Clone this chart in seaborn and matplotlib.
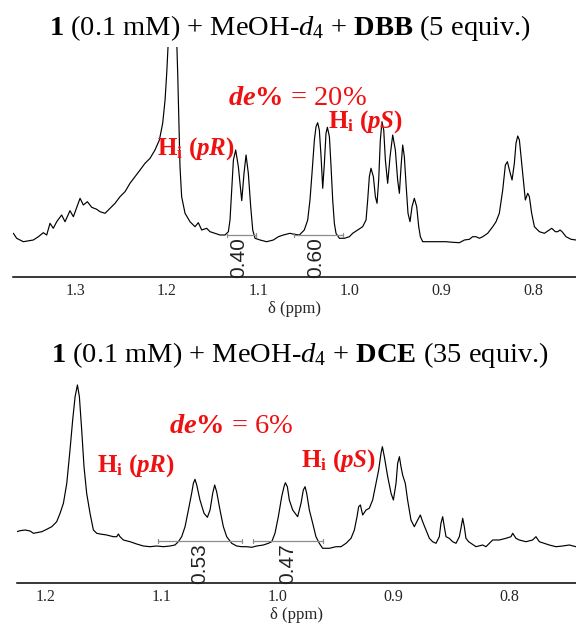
import numpy as np
import pandas as pd
import matplotlib
matplotlib.use("Agg")
import matplotlib.pyplot as plt
import seaborn as sns

# ---------------- data ----------------
# Top spectrum: 1 (0.1 mM) + MeOH-d4 + DBB (5 equiv.)
top_ppm = [1.3673, 1.3637, 1.3564, 1.3455, 1.3400, 1.3346, 1.3309, 1.3273, 1.3237, 1.3200,
           1.3146, 1.3109, 1.3055, 1.3018, 1.2945, 1.2909, 1.2865, 1.2818, 1.2763, 1.2727,
           1.2672, 1.2618, 1.2563, 1.2509, 1.2454, 1.2400, 1.2345, 1.2290, 1.2236, 1.2181,
           1.2127, 1.2079, 1.2043, 1.2017, 1.1999, 1.1981, 1.1937, 1.1890, 1.1879, 1.1865,
           1.1854, 1.1836, 1.1799, 1.1745, 1.1690, 1.1654, 1.1617, 1.1563, 1.1526, 1.1472,
           1.1417, 1.1362, 1.1326, 1.1308, 1.1290, 1.1271, 1.1246, 1.1217, 1.1180, 1.1155,
           1.1133, 1.1108, 1.1082, 1.1060, 1.1035, 1.0980, 1.0908, 1.0835, 1.0780, 1.0726,
           1.0653, 1.0624, 1.0551, 1.0497, 1.0460, 1.0435, 1.0413, 1.0387, 1.0369, 1.0351,
           1.0333, 1.0314, 1.0296, 1.0278, 1.0260, 1.0245, 1.0223, 1.0205, 1.0187, 1.0169,
           1.0151, 1.0114, 1.0060, 1.0005, 0.9969, 0.9914, 0.9860, 0.9823, 0.9805, 0.9787,
           0.9769, 0.9743, 0.9721, 0.9703, 0.9685, 0.9667, 0.9649, 0.9630, 0.9612, 0.9587,
           0.9561, 0.9532, 0.9503, 0.9478, 0.9459, 0.9441, 0.9423, 0.9405, 0.9387, 0.9365,
           0.9343, 0.9321, 0.9296, 0.9270, 0.9248, 0.9230, 0.9205, 0.9132, 0.9023, 0.8950,
           0.8877, 0.8804, 0.8749, 0.8695, 0.8659, 0.8622, 0.8586, 0.8549, 0.8495, 0.8440,
           0.8404, 0.8368, 0.8331, 0.8302, 0.8280, 0.8258, 0.8229, 0.8204, 0.8186, 0.8167,
           0.8149, 0.8131, 0.8106, 0.8084, 0.8058, 0.8040, 0.8015, 0.7985, 0.7931, 0.7876,
           0.7822, 0.7796, 0.7756, 0.7731, 0.7705, 0.7683, 0.7640, 0.7585, 0.7531]
top_int = [43.7, 38.7, 35.3, 37.0, 40.3, 44.3, 42.0, 53.7, 48.7, 55.3,
           62.0, 55.3, 66.3, 60.3, 78.7, 72.0, 75.3, 69.7, 67.7, 65.3,
           63.7, 68.7, 73.7, 80.3, 85.3, 93.7, 100.3, 107.0, 113.7, 118.7,
           127.0, 137.0, 153.7, 177.0, 203.7, 237.0, 330.0, 237.0, 203.7, 153.7,
           110.3, 80.3, 63.7, 55.3, 50.3, 54.3, 47.0, 48.7, 45.3, 43.7,
           42.0, 42.0, 45.3, 57.0, 87.0, 117.0, 127.0, 110.3, 76.3, 103.7,
           122.0, 103.7, 70.3, 47.0, 38.7, 37.0, 35.3, 37.0, 40.3, 42.0,
           43.7, 43.0, 42.0, 47.0, 57.0, 77.0, 103.7, 137.0, 150.3, 154.3,
           147.0, 120.3, 88.7, 113.7, 143.7, 149.7, 140.3, 110.3, 77.0, 53.7,
           43.7, 38.7, 38.7, 40.3, 43.7, 47.0, 50.3, 57.0, 77.0, 100.3,
           108.7, 100.3, 80.3, 73.7, 97.0, 137.0, 155.3, 147.0, 117.0, 93.7,
           120.3, 142.0, 127.0, 97.0, 83.7, 110.3, 132.0, 120.3, 93.7, 63.7,
           55.3, 70.3, 78.7, 70.3, 50.3, 40.3, 35.3, 35.3, 35.3, 35.3,
           34.7, 34.3, 37.0, 37.7, 40.3, 40.3, 38.7, 40.3, 43.7, 50.3,
           55.3, 63.7, 87.0, 112.0, 115.3, 107.0, 97.0, 113.7, 133.7, 141.0,
           137.0, 120.3, 97.0, 77.0, 83.7, 80.3, 63.7, 50.3, 45.3, 43.7,
           47.0, 48.7, 45.3, 45.3, 47.0, 45.3, 40.3, 37.7, 37.0]

# Bottom spectrum: 1 (0.1 mM) + MeOH-d4 + DCE (35 equiv.)
bot_ppm = [1.2253, 1.2225, 1.2181, 1.2138, 1.2109, 1.2081, 1.2037, 1.1994, 1.1951, 1.1908,
           1.1879, 1.1850, 1.1821, 1.1793, 1.1770, 1.1749, 1.1729, 1.1712, 1.1692, 1.1672,
           1.1649, 1.1620, 1.1591, 1.1562, 1.1533, 1.1476, 1.1418, 1.1389, 1.1375, 1.1361,
           1.1332, 1.1274, 1.1217, 1.1159, 1.1102, 1.1044, 1.0986, 1.0929, 1.0886, 1.0857,
           1.0828, 1.0799, 1.0770, 1.0742, 1.0727, 1.0713, 1.0698, 1.0670, 1.0635, 1.0606,
           1.0583, 1.0560, 1.0543, 1.0526, 1.0497, 1.0468, 1.0439, 1.0396, 1.0353, 1.0310,
           1.0266, 1.0223, 1.0180, 1.0122, 1.0079, 1.0050, 1.0022, 0.9993, 0.9964, 0.9944,
           0.9932, 0.9915, 0.9898, 0.9869, 0.9826, 0.9797, 0.9777, 0.9762, 0.9748, 0.9725,
           0.9696, 0.9668, 0.9639, 0.9610, 0.9552, 0.9495, 0.9452, 0.9408, 0.9365, 0.9336,
           0.9313, 0.9299, 0.9284, 0.9264, 0.9235, 0.9207, 0.9178, 0.9149, 0.9126, 0.9106,
           0.9094, 0.9077, 0.9048, 0.9019, 0.8999, 0.8976, 0.8962, 0.8947, 0.8933, 0.8919,
           0.8896, 0.8876, 0.8847, 0.8818, 0.8789, 0.8766, 0.8746, 0.8717, 0.8688, 0.8660,
           0.8631, 0.8602, 0.8588, 0.8573, 0.8559, 0.8544, 0.8516, 0.8487, 0.8458, 0.8429,
           0.8415, 0.8400, 0.8386, 0.8372, 0.8349, 0.8328, 0.8285, 0.8228, 0.8199, 0.8141,
           0.8084, 0.8026, 0.7983, 0.7968, 0.7940, 0.7911, 0.7853, 0.7796, 0.7767, 0.7738,
           0.7695, 0.7652, 0.7594, 0.7537, 0.7479, 0.7422]
bot_int = [51.3, 52.3, 53.0, 52.0, 49.7, 50.3, 51.3, 53.7, 56.3, 61.3,
           69.7, 79.7, 99.7, 133.0, 163.0, 186.3, 198.0, 186.3, 153.0, 116.3,
           89.7, 69.7, 53.0, 49.7, 49.0, 48.0, 46.3, 46.3, 49.0, 46.3,
           43.0, 41.3, 39.0, 37.0, 36.3, 37.0, 36.3, 37.0, 38.0, 41.3,
           46.3, 56.3, 73.0, 89.7, 99.7, 103.7, 98.0, 83.0, 69.7, 65.7,
           73.0, 89.7, 98.0, 91.3, 73.0, 56.3, 46.3, 39.7, 37.0, 36.3,
           36.3, 35.7, 37.0, 38.0, 39.7, 41.3, 49.7, 66.3, 86.3, 96.3,
           100.3, 96.3, 83.0, 73.0, 66.3, 79.7, 93.0, 96.3, 89.7, 73.0,
           59.7, 46.3, 39.7, 34.7, 34.7, 36.3, 36.3, 39.7, 44.7, 53.0,
           66.3, 76.3, 78.0, 68.0, 73.0, 74.7, 83.0, 99.7, 113.0, 129.7,
           136.3, 126.3, 106.3, 89.7, 83.0, 99.7, 119.7, 126.3, 116.3, 108.0,
           99.7, 83.0, 63.0, 56.3, 63.0, 68.0, 61.3, 53.0, 44.7, 41.3,
           39.7, 46.3, 59.7, 66.3, 56.3, 46.3, 44.7, 41.3, 39.7, 46.3,
           54.7, 64.7, 56.3, 44.7, 41.3, 39.7, 36.3, 38.0, 36.3, 43.0,
           43.0, 44.7, 46.3, 49.7, 44.7, 43.0, 41.3, 43.0, 46.3, 41.3,
           39.7, 38.0, 36.3, 37.0, 38.0, 36.3]

# integrals: (start ppm, end ppm, value)
top_int_start = [1.134, 1.061]
top_int_end = [1.102, 1.0074]
top_int_labels = ["0.40", "0.60"]
bot_int_start = [1.1032, 1.0212]
bot_int_end = [1.0307, 0.9607]
bot_int_labels = ["0.53", "0.47"]

top_ticks = [1.3, 1.2, 1.1, 1.0, 0.9, 0.8]
bot_ticks = [1.2, 1.1, 1.0, 0.9, 0.8]
tick_fmt = "{:.1f}"

titles = [r"$\mathbf{1}$ (0.1 mM) + MeOH-$d_4$ + $\mathbf{DBB}$ (5 equiv.)",
          r"$\mathbf{1}$ (0.1 mM) + MeOH-$d_4$ + $\mathbf{DCE}$ (35 equiv.)"]
de_texts = [r"$\mathbfit{de}\mathbf{\%}$ = 20%", r"$\mathbfit{de}\mathbf{\%}$ = 6%"]
hr_text = r"$\mathbf{H}_{\mathbf{i}}\ \mathbf{(}\mathbfit{pR}\mathbf{)}$"
hs_text = r"$\mathbf{H}_{\mathbf{i}}\ \mathbf{(}\mathbfit{pS}\mathbf{)}$"

# ---------------- style ----------------
sns.set_theme(style="white")
plt.rcParams["font.family"] = ["Liberation Serif", "DejaVu Serif"]
plt.rcParams["mathtext.fontset"] = "custom"
plt.rcParams["mathtext.rm"] = "Liberation Serif"
plt.rcParams["mathtext.it"] = "Liberation Serif:italic"
plt.rcParams["mathtext.bf"] = "Liberation Serif:bold"
plt.rcParams["mathtext.bfit"] = "Liberation Serif:italic:bold"

RED = "#ee1111"
W, H = 576, 625
fig = plt.figure(figsize=(W / 100, H / 100), dpi=100)
fig.patch.set_facecolor("white")

def make_ax(left_px, top_px, bottom_px):
    return fig.add_axes([left_px / W, 1 - bottom_px / H, 1 - left_px / W, (bottom_px - top_px) / H])

ax1 = make_ax(13, 47, 277)
ax2 = make_ax(17, 370, 583)

def style_ax(ax, xlim, ylim, ticks):
    ax.set_xlim(*xlim)
    ax.set_ylim(*ylim)
    ax.set_xticks(ticks)
    ax.set_xticklabels([tick_fmt.format(t) for t in ticks], fontsize=11.5)
    ax.set_yticks([])
    ax.set_ylabel("")
    for s in ["top", "left", "right"]:
        ax.spines[s].set_visible(False)
    ax.spines["bottom"].set_color("black")
    ax.spines["bottom"].set_linewidth(1.1)
    ax.tick_params(axis="x", direction="out", length=2.5, width=0.9, color="black", pad=2)
    ax.set_xlabel("δ (ppm)", fontsize=12, labelpad=1)
    ax.set_facecolor("white")
    ax.grid(False)

df_top = pd.DataFrame({"ppm": top_ppm, "intensity": top_int})
df_bot = pd.DataFrame({"ppm": bot_ppm, "intensity": bot_int})
sns.lineplot(data=df_top, x="ppm", y="intensity", ax=ax1, color="black", lw=0.85,
             estimator=None, sort=False)
sns.lineplot(data=df_bot, x="ppm", y="intensity", ax=ax2, color="black", lw=0.85,
             estimator=None, sort=False)
style_ax(ax1, (1.3677, 0.7531), (0, 230), top_ticks)
style_ax(ax2, (1.2251, 0.7421), (0, 213), bot_ticks)

def integrals(ax, starts, ends, labels, level, shift):
    for s, e, lab in zip(starts, ends, labels):
        ax.plot([s, e], [level, level], color="#8c8c8c", lw=0.9)
        ax.plot([s, s], [level - 2, level + 2], color="#8c8c8c", lw=0.9)
        ax.plot([e, e], [level - 2, level + 2], color="#8c8c8c", lw=0.9)
        ax.text((s + e) / 2 + shift, level - 2, lab, rotation=90,
                ha="center", va="top", fontsize=15, family="Liberation Sans", color="#222222")

integrals(ax1, top_int_start, top_int_end, top_int_labels, 42, 0.003)
integrals(ax2, bot_int_start, bot_int_end, bot_int_labels, 42, 0.0)

# red annotations
ax1.text(1.0576, 172, de_texts[0], ha="center", va="baseline", fontsize=20.5, color=RED)
ax1.text(1.2105, 122, hr_text, ha="left", va="baseline", fontsize=18, color=RED)
ax1.text(1.0238, 149, hs_text, ha="left", va="baseline", fontsize=18, color=RED)
ax2.text(1.0402, 150, de_texts[1], ha="center", va="baseline", fontsize=20.5, color=RED)
ax2.text(1.1559, 111, hr_text, ha="left", va="baseline", fontsize=18, color=RED)
ax2.text(0.9797, 116, hs_text, ha="left", va="baseline", fontsize=18, color=RED)

# titles
fig.text(290 / W, 1 - 35 / H, titles[0], ha="center", va="baseline", fontsize=20.5, color="black")
fig.text(300 / W, 1 - 362 / H, titles[1], ha="center", va="baseline", fontsize=20.5, color="black")

fig.savefig("out.png", dpi=100, facecolor="white")
